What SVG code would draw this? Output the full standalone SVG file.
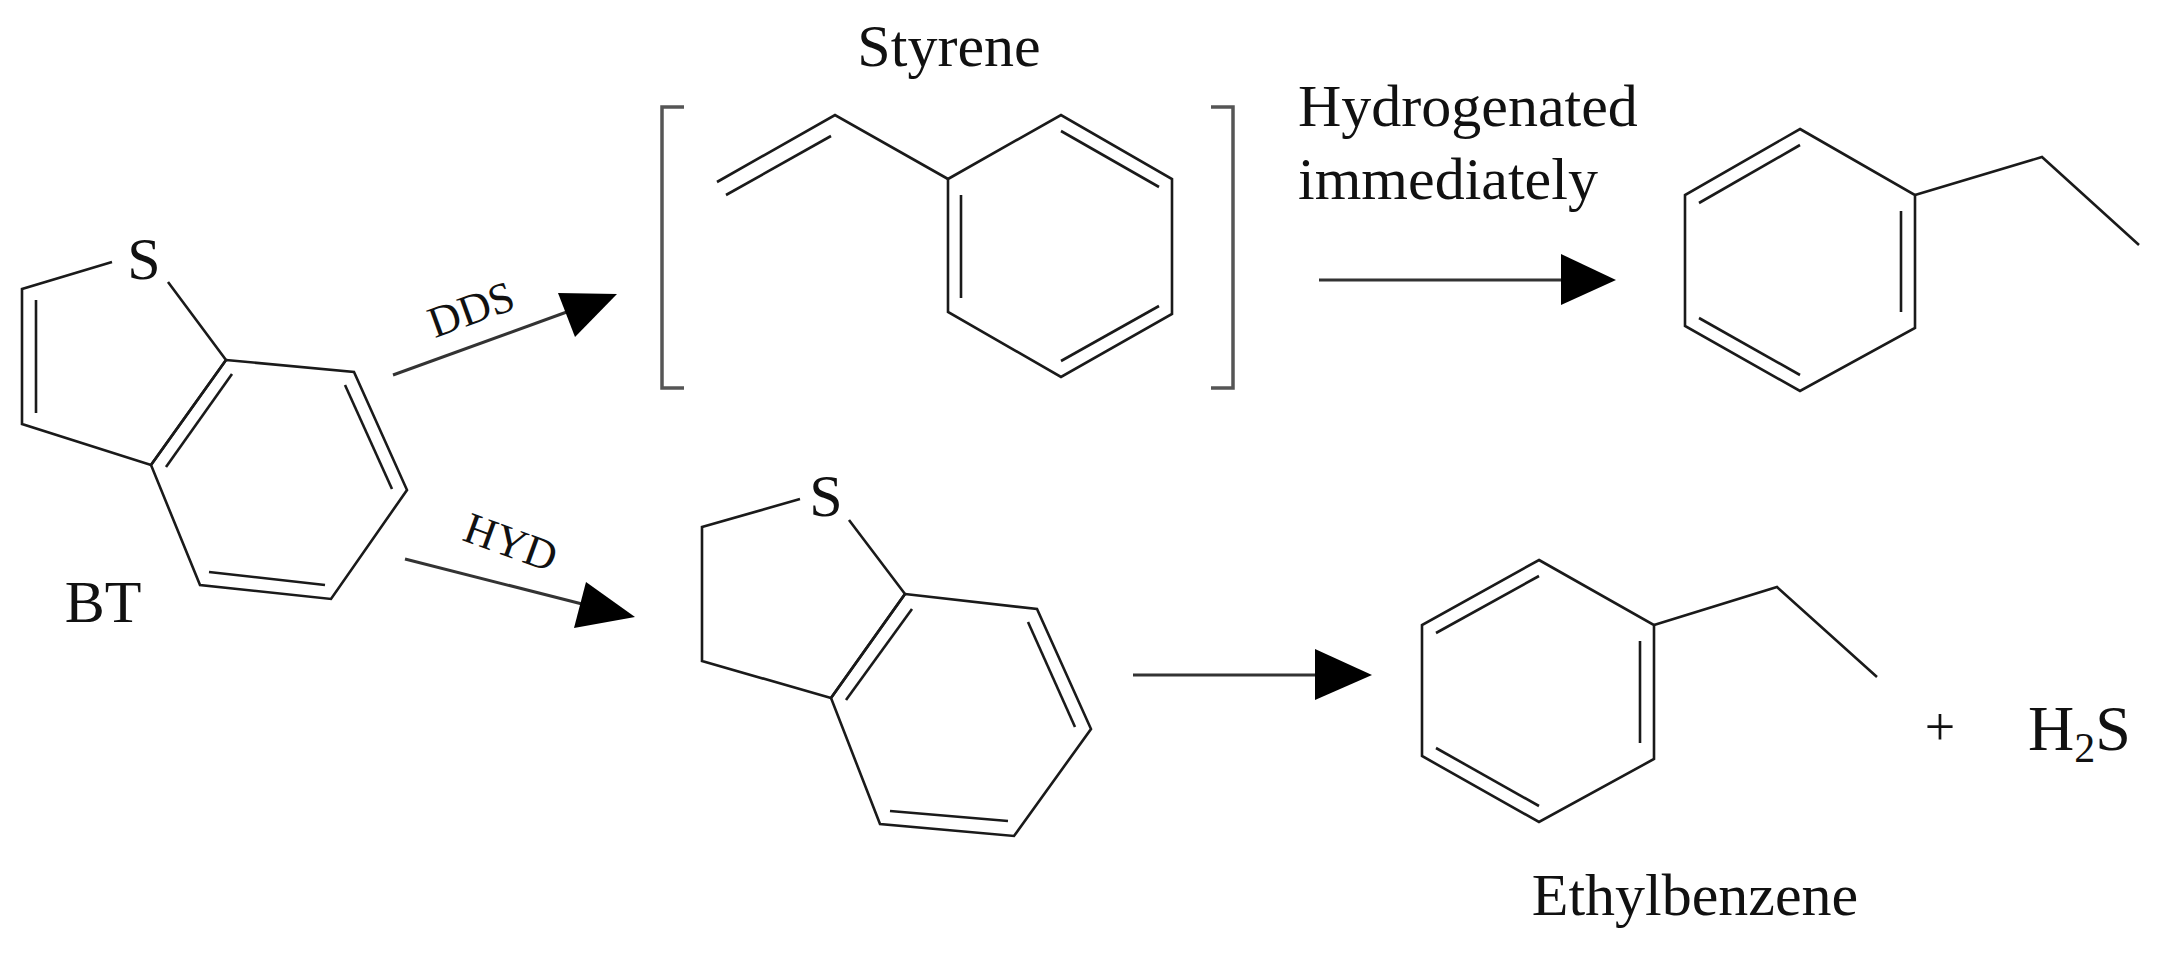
<svg xmlns="http://www.w3.org/2000/svg" width="2173" height="960" viewBox="0 0 2173 960">
<style>
.b{fill:none;stroke:#1a1a1a;stroke-width:2.6;stroke-linejoin:miter}
.a{fill:none;stroke:#333;stroke-width:3}
.h{fill:#000}
.br{fill:none;stroke:#555;stroke-width:3.5}
text{font-family:"Liberation Serif",serif;fill:#111}
.l{font-size:60px}
.s{font-size:44px}
</style>
<rect width="2173" height="960" fill="#fff"/>
<g id="connectors">
<line class="a" x1="393" y1="375" x2="575" y2="309"/>
<polygon class="h" points="617,294 558,293 575,337"/>
<line class="a" x1="405" y1="559" x2="590" y2="606"/>
<polygon class="h" points="635,617 586,582 574,628"/>
<line class="a" x1="1319" y1="280" x2="1570" y2="280"/>
<polygon class="h" points="1616,280 1561,254 1561,305"/>
<line class="a" x1="1133" y1="675" x2="1325" y2="675"/>
<polygon class="h" points="1372,675 1315,649 1315,700"/>
</g>
<g id="BT">
<polyline class="b" points="112,262 22,289 22,424 151,465 226,360 168,282"/>
<polygon class="b" points="226,360 354,372 407,490 331,599 200,585 151,465"/>
<line class="b" x1="36" y1="300" x2="36" y2="413"/>
<line class="b" x1="166" y1="467" x2="232" y2="374"/>
<line class="b" x1="345" y1="385" x2="392" y2="489"/>
<line class="b" x1="325" y1="585" x2="209" y2="572"/>
<text class="l" x="144" y="279" text-anchor="middle">S</text>
<text class="l" x="103" y="622" text-anchor="middle">BT</text>
</g>
<g id="DDS"><text class="s" x="471" y="324" text-anchor="middle" transform="rotate(-20 471 309)">DDS</text></g>
<g id="HYD"><text class="s" x="511" y="557" text-anchor="middle" transform="rotate(20 511 542)">HYD</text></g>
<g id="styrene">
<text class="l" x="949" y="66" text-anchor="middle">Styrene</text>
<polyline class="br" points="684,107 662,107 662,388 684,388"/>
<polyline class="br" points="1211,107 1233,107 1233,388 1211,388"/>
<polyline class="b" points="717,182 835,115 948,179"/>
<line class="b" x1="726" y1="195" x2="831" y2="136"/>
<polygon class="b" points="948,179 1061,115 1172,179 1172,314 1061,377 948,312"/>
<line class="b" x1="961" y1="195" x2="961" y2="298"/>
<line class="b" x1="1061" y1="131" x2="1159" y2="187"/>
<line class="b" x1="1159" y1="306" x2="1061" y2="361"/>
</g>
<g id="hydrogenated">
<text class="l" x="1298" y="126">Hydrogenated</text>
<text class="l" x="1298" y="199">immediately</text>
</g>
<g id="ethylbenzene-top">
<polygon class="b" points="1800,129 1915,195 1915,328 1800,391 1685,326 1685,195"/>
<polyline class="b" points="1915,195 2042,157 2139,245"/>
<line class="b" x1="1699" y1="203" x2="1800" y2="145"/>
<line class="b" x1="1901" y1="211" x2="1901" y2="312"/>
<line class="b" x1="1699" y1="318" x2="1800" y2="375"/>
</g>
<g id="dihydroBT">
<polyline class="b" points="800,499 702,527 702,661 831,698 905,594 849,520"/>
<polygon class="b" points="905,594 1037,609 1091,729 1014,836 880,824 831,698"/>
<line class="b" x1="846" y1="700" x2="912" y2="609"/>
<line class="b" x1="1028" y1="622" x2="1075" y2="727"/>
<line class="b" x1="1008" y1="821" x2="890" y2="811"/>
<text class="l" x="826" y="516" text-anchor="middle">S</text>
</g>
<g id="ethylbenzene-bottom">
<polygon class="b" points="1539,560 1654,625 1654,759 1539,822 1422,756 1422,625"/>
<polyline class="b" points="1654,625 1777,587 1877,677"/>
<line class="b" x1="1436" y1="633" x2="1539" y2="576"/>
<line class="b" x1="1640" y1="641" x2="1640" y2="743"/>
<line class="b" x1="1436" y1="748" x2="1539" y2="806"/>
<text class="l" x="1695" y="915" text-anchor="middle">Ethylbenzene</text>
</g>
<g id="plus"><text class="l" x="1940" y="745" text-anchor="middle" style="font-size:54px">+</text></g>
<g id="H2S"><text class="l" x="2028" y="750" style="font-size:64px">H<tspan style="font-size:42px" dy="12">2</tspan><tspan dy="-12">S</tspan></text></g>
</svg>
